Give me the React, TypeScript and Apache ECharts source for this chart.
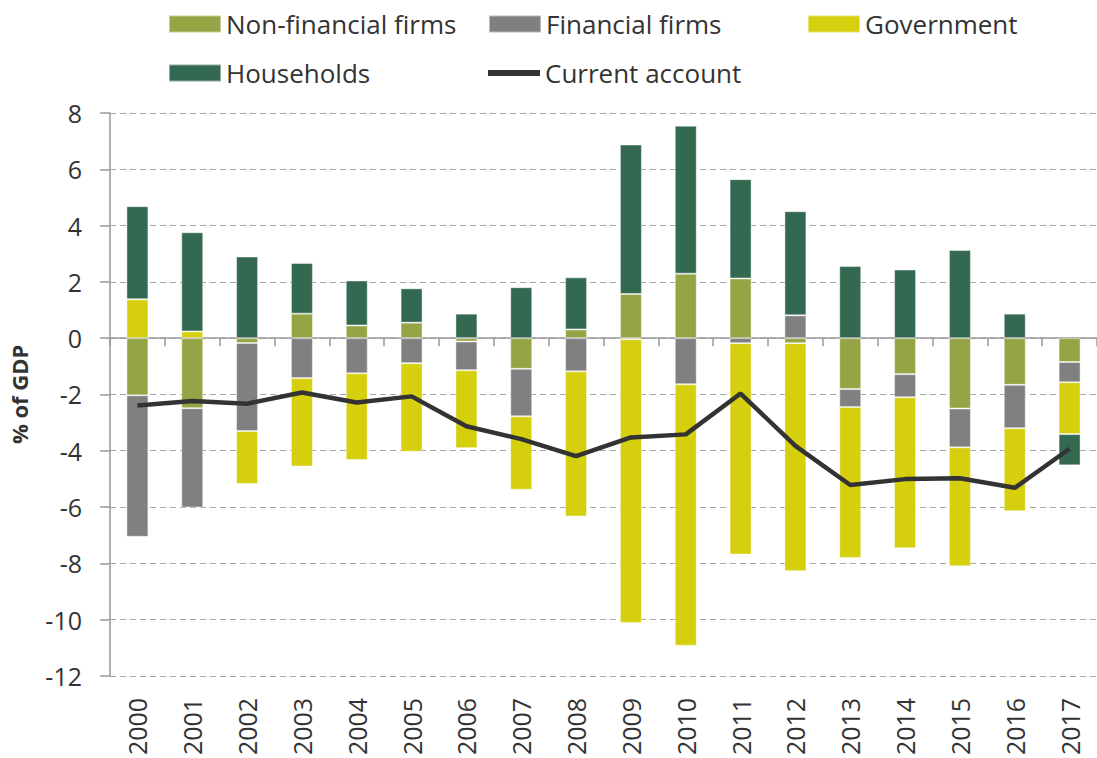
import React, { useEffect, useRef } from "react";
import * as echarts from "echarts";

const years = ["2000","2001","2002","2003","2004","2005","2006","2007","2008","2009","2010","2011","2012","2013","2014","2015","2016","2017"];
const nonFinancial = [-2.03, -2.49, -0.17, 0.87, 0.45, 0.55, -0.12, -1.09, 0.31, 1.57, 2.29, 2.12, -0.18, -1.81, -1.28, -2.5, -1.66, -0.85];
const financial = [-5.03, -3.53, -3.13, -1.42, -1.25, -0.89, -1.02, -1.69, -1.18, -0.04, -1.64, -0.18, 0.81, -0.64, -0.82, -1.38, -1.54, -0.72];
const government = [1.38, 0.24, -1.88, -3.14, -3.08, -3.15, -2.77, -2.61, -5.16, -10.08, -9.29, -7.51, -8.1, -5.36, -5.37, -4.23, -2.95, -1.84];
const households = [3.31, 3.52, 2.9, 1.8, 1.6, 1.22, 0.87, 1.81, 1.85, 5.31, 5.26, 3.53, 3.7, 2.56, 2.44, 3.13, 0.87, -1.11];
const currentAccount = [-2.39, -2.23, -2.33, -1.93, -2.29, -2.07, -3.13, -3.59, -4.19, -3.53, -3.42, -1.97, -3.83, -5.22, -5.01, -4.98, -5.32, -3.93];

const FONT = "'Open Sans', 'Noto Sans', sans-serif";
const TXT = "#333333";

export default function App() {
  const ref = useRef<HTMLDivElement>(null);
  useEffect(() => {
    if (!ref.current) return;
    const chart = echarts.init(ref.current, null, { renderer: "svg" });
    const barStyle = (color: string) => ({
      color,
      borderColor: "rgba(255,255,255,0.45)",
      borderWidth: 1,
    });
    const legendText = { fontSize: 26, color: TXT, fontFamily: FONT, lineHeight: 26 };
    const mkLegend = (name: string, left: number, top: number, h = 17) => ({
      data: [{ name, icon: "rect" }],
      left,
      top,
      itemWidth: 52,
      itemHeight: h,
      itemGap: 0,
      padding: 0,
      textStyle: legendText,
      selectedMode: false,
    });
    chart.setOption({
      animation: false,
      textStyle: { fontFamily: FONT },
      legend: [
        mkLegend("Non-financial firms", 168, 11),
        mkLegend("Financial firms", 488, 11),
        mkLegend("Government", 807, 11),
        mkLegend("Households", 168, 60),
        mkLegend("Current account", 488, 60, 6),
      ],
      grid: { left: 107, right: -6, top: 113, bottom: 80, containLabel: false },
      xAxis: [
        {
          type: "category",
          data: years,
          position: "bottom",
          axisLine: { show: false, onZero: false },
          axisTick: { show: false },
          axisLabel: { rotate: 90, margin: 22, fontSize: 25, color: TXT, fontFamily: FONT },
          splitLine: { show: false },
        },
        {
          type: "category",
          data: years,
          position: "top",
          axisLine: { show: true, onZero: true, lineStyle: { color: "#999999", width: 1.5 } },
          axisTick: { show: true, inside: true, length: 8, lineStyle: { color: "#999999", width: 1.5 } },
          axisLabel: { show: false },
          splitLine: { show: false },
        },
      ],
      yAxis: {
        type: "value",
        min: -12,
        max: 8,
        interval: 2,
        name: "% of GDP",
        nameLocation: "middle",
        nameRotate: 90,
        nameGap: 80,
        nameTextStyle: { fontSize: 22, fontWeight: "bold", color: TXT, fontFamily: FONT },
        axisLine: { show: true, lineStyle: { color: "#999999", width: 1.5 } },
        axisTick: { show: true, length: 10, lineStyle: { color: "#999999", width: 1.5 } },
        axisLabel: { fontSize: 25, color: TXT, margin: 28, fontFamily: FONT },
        splitLine: { show: true, lineStyle: { color: "#A6A6A6", type: [6, 4], width: 1.2 } },
      },
      series: [
        { name: "Non-financial firms", type: "bar", stack: "total", barWidth: 22, data: nonFinancial, itemStyle: barStyle("#95A545") },
        { name: "Financial firms", type: "bar", stack: "total", barWidth: 22, data: financial, itemStyle: barStyle("#808080") },
        { name: "Government", type: "bar", stack: "total", barWidth: 22, data: government, itemStyle: barStyle("#D5CF0D") },
        { name: "Households", type: "bar", stack: "total", barWidth: 22, data: households, itemStyle: barStyle("#336950") },
        {
          name: "Current account",
          type: "line",
          data: currentAccount,
          symbol: "none",
          z: 5,
          lineStyle: { color: "#333333", width: 4.5 },
          itemStyle: { color: "#333333" },
        },
      ],
    });
    return () => chart.dispose();
  }, []);
  return (
    <div
      ref={ref}
      style={{ position: "absolute", left: 0, top: 0, width: 1097, height: 758, background: "#ffffff" }}
    />
  );
}
